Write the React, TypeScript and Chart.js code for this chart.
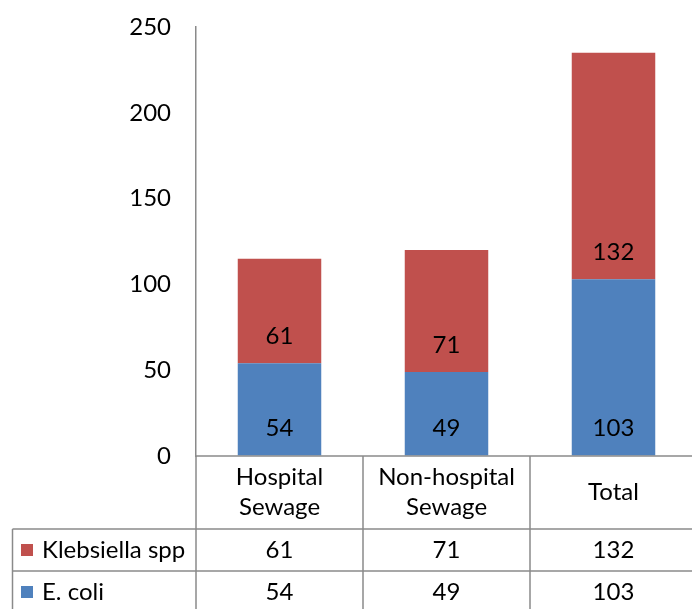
import React, { useEffect, useRef } from "react";
import { Chart, registerables } from "chart.js";

Chart.register(...registerables);

const categoryLines: string[][] = [["Hospital", "Sewage"], ["Non-hospital", "Sewage"], ["Total"]];
const categories = ["Hospital Sewage", "Non-hospital Sewage", "Total"];
const ecoli = [54, 49, 103];
const klebsiella = [61, 71, 132];
const seriesNames = ["E. coli", "Klebsiella spp"];
const seriesColors = ["#4F81BD", "#C0504D"];
const yTicks = [0, 50, 100, 150, 200, 250];

const FONT = "Lato";
const FS = 24;
const LINE = "#8A8A8A";

const tablePlugin = {
  id: "excelTable",
  afterDatasetsDraw(chart: any) {
    const ctx = chart.ctx;
    ctx.save();
    ctx.font = `${FS}px ${FONT}`;
    ctx.fillStyle = "#000";
    ctx.textAlign = "center";
    ctx.textBaseline = "middle";
    chart.data.datasets.forEach((ds: any, di: number) => {
      const meta = chart.getDatasetMeta(di);
      meta.data.forEach((el: any, i: number) => {
        const p = el.getProps(["x", "base"], true);
        ctx.fillText(String(ds.data[i]), p.x, p.base - 27);
      });
    });
    ctx.restore();
  },
  afterDraw(chart: any) {
    const ctx = chart.ctx;
    const xs = chart.scales.x;
    const area = chart.chartArea;
    const n = chart.data.labels.length;
    const cw = xs.getPixelForValue(1) - xs.getPixelForValue(0);
    const left = xs.getPixelForValue(0) - cw / 2;
    const right = xs.getPixelForValue(n - 1) + cw / 2;
    const top = area.bottom;
    const headerH = 73;
    const rowH = 42;
    const r1 = top + headerH;
    const r2 = r1 + rowH;
    const r3 = r2 + rowH;
    const legLeft = 12.5;

    ctx.save();
    ctx.strokeStyle = LINE;
    ctx.lineWidth = 1.5;
    const line = (x1: number, y1: number, x2: number, y2: number) => {
      ctx.beginPath();
      ctx.moveTo(x1, y1);
      ctx.lineTo(x2, y2);
      ctx.stroke();
    };
    line(left, top, right, top);
    line(legLeft, r1, right, r1);
    line(legLeft, r2, right, r2);
    line(legLeft, r3, right, r3);
    line(legLeft, r1, legLeft, r3);
    for (let i = 0; i <= n; i++) {
      const x = left + i * cw;
      line(x, top, x, r3);
    }

    ctx.font = `${FS}px ${FONT}`;
    ctx.fillStyle = "#000";
    ctx.textAlign = "center";
    ctx.textBaseline = "middle";
    const headMid = top + headerH / 2;
    categoryLines.forEach((lines, i) => {
      const cx = xs.getPixelForValue(i);
      const lh = 30;
      lines.forEach((t, k) => {
        const y = headMid + (k - (lines.length - 1) / 2) * lh;
        ctx.fillText(t, cx, y);
      });
    });

    // rows: Klebsiella first, then E. coli
    const rows = [
      { name: seriesNames[1], color: seriesColors[1], vals: klebsiella, y: r1 + rowH / 2 },
      { name: seriesNames[0], color: seriesColors[0], vals: ecoli, y: r2 + rowH / 2 },
    ];
    rows.forEach((r) => {
      ctx.fillStyle = r.color;
      ctx.fillRect(21, r.y - 6, 12, 12);
      ctx.fillStyle = "#000";
      ctx.textAlign = "left";
      ctx.fillText(r.name, 42, r.y);
      ctx.textAlign = "center";
      r.vals.forEach((v, i) => {
        ctx.fillText(String(v), xs.getPixelForValue(i), r.y);
      });
    });
    ctx.restore();
  },
};

export default function App() {
  const ref = useRef<HTMLCanvasElement | null>(null);
  useEffect(() => {
    if (!ref.current) return;
    const chart = new Chart(ref.current, {
      type: "bar",
      data: {
        labels: categories,
        datasets: [
          { label: seriesNames[0], data: ecoli, backgroundColor: seriesColors[0], borderWidth: 0 },
          { label: seriesNames[1], data: klebsiella, backgroundColor: seriesColors[1], borderWidth: 0 },
        ],
      },
      options: {
        animation: false,
        responsive: false,
        layout: { padding: { left: 0, top: 27, right: 3, bottom: 164 } },
        plugins: { legend: { display: false }, tooltip: { enabled: false } },
        datasets: { bar: { categoryPercentage: 1, barPercentage: 0.5 } },
        scales: {
          x: { display: false, stacked: true },
          y: {
            stacked: true,
            min: 0,
            max: 250,
            afterFit: (s: any) => {
              s.width = 196;
            },
            afterBuildTicks: (s: any) => {
              s.ticks = yTicks.map((v) => ({ value: v }));
            },
            grid: {
              display: true,
              drawOnChartArea: false,
              drawTicks: true,
              tickLength: 25,
              tickColor: "rgba(0,0,0,0)",
            },
            border: { display: true, color: LINE, width: 1.5 },
            ticks: {
              padding: 0,
              color: "#000",
              font: { family: FONT, size: FS },
            },
          },
        },
      },
      plugins: [tablePlugin],
    } as any);
    return () => chart.destroy();
  }, []);
  return (
    <div style={{ position: "fixed", left: 0, top: 0, width: 700, height: 620, background: "#fff" }}>
      <canvas ref={ref} width={700} height={620} style={{ display: "block" }} />
    </div>
  );
}
